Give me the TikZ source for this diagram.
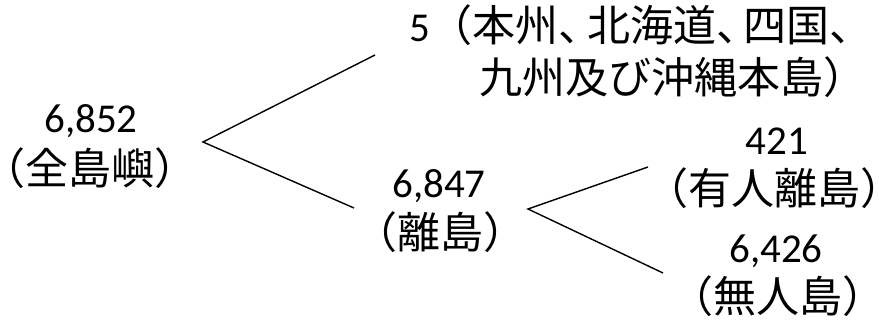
\documentclass[tikz,border=0pt]{standalone}
\usepackage{fontspec}
\setmainfont{Carlito}
\newfontfamily\jpf{Noto Sans CJK JP}
\newcommand\jp{\jpf\fontsize{43}{50}\selectfont}
\begin{document}
\begin{tikzpicture}[x=1pt,y=-1pt,
  lbl/.style={inner sep=0pt,anchor=base,font=\fontsize{41}{48}\selectfont},
  conn/.style={line width=1.4pt,black}]
\useasboundingbox (0,0) rectangle (879,320);
% root
\node[lbl] (allnum) at (91,133) {6,852};
\node[lbl] (allname) at (90,185) {\jp （全島嶼）};
% main islands
\node[lbl,anchor=base west] (mainA) at (409,42) {5\jp（本州、\kern-15pt北海道、\kern-16pt四国、};
\node[lbl,anchor=base west] (mainB) at (479,94) {\jp 九州及び沖縄本島）};
% remote islands
\node[lbl] (remnum) at (439,198) {6,847};
\node[lbl] (remname) at (440,249) {\jp （離島）};
% inhabited
\node[lbl] (inhnum) at (777,155) {421};
\node[lbl] (inhname) at (774,205) {\jp （有人離島）};
% uninhabited
\node[lbl] (uninum) at (776,263) {6,426};
\node[lbl] (uniname) at (778,313) {\jp （無人島）};
% connector points
\coordinate (v1) at (203,142);
\coordinate (e1a) at (375,55);
\coordinate (e1b) at (354,208);
\coordinate (v2) at (528,209);
\coordinate (e2a) at (648,167);
\coordinate (e2b) at (663,273);
\draw[conn] (e1a) -- (v1) -- (e1b);
\draw[conn] (e2a) -- (v2) -- (e2b);
\end{tikzpicture}
\end{document}
